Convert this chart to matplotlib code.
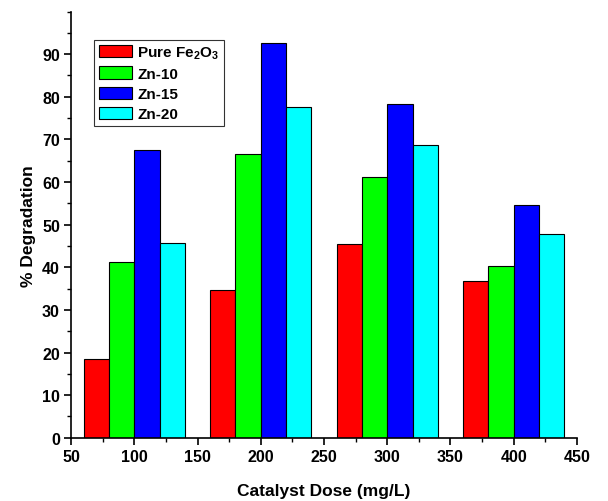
import matplotlib
matplotlib.use("Agg")
import matplotlib.pyplot as plt
import numpy as np
from matplotlib.ticker import MultipleLocator

plt.rcParams["font.family"] = ["Liberation Sans", "DejaVu Sans"]
plt.rcParams["font.weight"] = "bold"
plt.rcParams["mathtext.fontset"] = "custom"
plt.rcParams["mathtext.rm"] = "Liberation Sans:bold"
plt.rcParams["mathtext.default"] = "rm"

doses = [100, 200, 300, 400]
series_labels = ["Pure Fe$_2$O$_3$", "Zn-10", "Zn-15", "Zn-20"]
pure_fe2o3 = [18.5, 34.6, 45.4, 36.8]
zn10 = [41.2, 66.6, 61.2, 40.2]
zn15 = [67.6, 92.6, 78.4, 54.5]
zn20 = [45.6, 77.6, 68.7, 47.9]
colors = ["#ff0000", "#00ff00", "#0000ff", "#00ffff"]

fig = plt.figure(figsize=(6.08, 5.02), dpi=100)
ax = fig.add_axes([0.1168, 0.126, 0.8322, 0.849])

width = 20
offsets = [-30, -10, 10, 30]
x = np.array(doses)
for vals, off, col, lab in zip([pure_fe2o3, zn10, zn15, zn20], offsets, colors, series_labels):
    ax.bar(x + off, vals, width=width, color=col, edgecolor="black", linewidth=0.8, label=lab)

ax.set_xlim(50, 450)
ax.set_ylim(0, 100)
ax.set_yticks(range(0, 100, 10))
ax.xaxis.set_major_locator(MultipleLocator(50))
ax.xaxis.set_minor_locator(MultipleLocator(25))
ax.yaxis.set_minor_locator(MultipleLocator(5))
ax.spines["top"].set_visible(False)
ax.spines["right"].set_visible(False)
ax.spines["left"].set_linewidth(1.2)
ax.spines["bottom"].set_linewidth(1.2)
ax.tick_params(which="major", direction="out", length=5, width=1.2, labelsize=11.5, pad=3)
ax.tick_params(which="minor", direction="out", length=3, width=1.0)
for t in ax.get_xticklabels() + ax.get_yticklabels():
    t.set_fontweight("bold")

ax.set_xlabel("Catalyst Dose (mg/L)", fontsize=12.5, fontweight="bold", labelpad=14)
ax.set_ylabel("% Degradation", fontsize=12.5, fontweight="bold", labelpad=4)

leg = ax.legend(loc="upper left", bbox_to_anchor=(0.046, 0.934), frameon=True, fancybox=False,
                edgecolor="black", fontsize=11, handlelength=2.15, handleheight=0.85,
                labelspacing=0.38, borderpad=0.3, handletextpad=0.35, borderaxespad=0)
leg.get_frame().set_linewidth(0.8)

fig.savefig("out.png", dpi=100)
